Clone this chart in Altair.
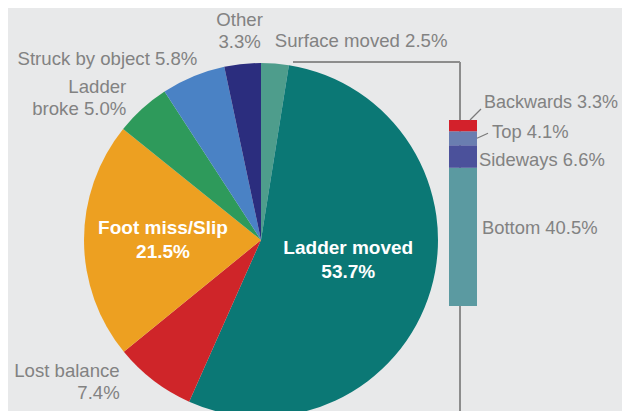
import altair as alt
import pandas as pd

# ---- data ----
causes = ["Surface moved", "Ladder moved", "Lost balance", "Foot miss/Slip",
          "Ladder broke", "Struck by object", "Other"]
cause_values = [2.5, 53.7, 7.4, 21.5, 5.0, 5.8, 3.3]
cause_label_names = ["Surface moved", "Ladder moved", "Lost balance", "Foot miss/Slip",
                     "Ladder\nbroke", "Struck by object", "Other"]
cause_label_seps = [" ", "\n", "\n", "\n", " ", " ", "\n"]
cause_colors = ["#4e9d8c", "#0b7875", "#cf2529", "#eda021", "#2e9a5b", "#4a82c5", "#2b2d7e"]

parts = ["Bottom", "Sideways", "Top", "Backwards"]
part_values = [40.5, 6.6, 4.1, 3.3]
part_colors = ["#5b9aa1", "#4b519b", "#6a7eb0", "#d3212b"]

# ---- tables ----
pie_total = sum(cause_values)
pie_df = pd.DataFrame({
    "idx": list(range(len(causes))),
    "cause": causes,
    "value": cause_values,
    "label": [n + s + f"{v:.1f}%" for n, s, v in zip(cause_label_names, cause_label_seps, cause_values)],
})
pie_df["mid"] = pie_df["value"].cumsum() - pie_df["value"] / 2

bar_total = sum(part_values)
bar_df = pd.DataFrame({
    "bidx": list(range(len(parts))),
    "part": parts,
    "value": part_values,
    "label": [f"{p} {v:.1f}%" for p, v in zip(parts, part_values)],
})
bar_df["top"] = bar_df["value"].cumsum()
bar_df["start"] = bar_df["top"] - bar_df["value"]
bar_df["mid"] = bar_df["top"] - bar_df["value"] / 2

# ---- layout / style ----
CX, CY, R = 253, 232, 177
GRAY = "#828282"
FONT = "Liberation Sans"
theta_scale = alt.Scale(domain=[0, pie_total])
y_scale = alt.Scale(domain=[0, bar_total], range=[298, 112])

pie = alt.Chart(pie_df).mark_arc(radius=R).encode(
    theta=alt.Theta("value:Q", stack=True, scale=theta_scale),
    color=alt.Color("cause:N", scale=alt.Scale(domain=causes, range=cause_colors), legend=None),
    order=alt.Order("idx:Q"),
    x=alt.value(CX),
    y=alt.value(CY),
)

pie_label_style = {
    "Surface moved": dict(radius=200, dx=-2, dy=0, align="left", bold=False),
    "Ladder moved": dict(radius=90, dx=1, dy=-18, align="center", bold=True),
    "Lost balance": dict(radius=185, dx=-29, dy=-16, align="right", bold=False),
    "Foot miss/Slip": dict(radius=98, dx=0, dy=-12, align="center", bold=True),
    "Ladder broke": dict(radius=195, dx=-4, dy=-8, align="right", bold=False),
    "Struck by object": dict(radius=195, dx=11, dy=-1, align="right", bold=False),
    "Other": dict(radius=205, dx=0, dy=-16, align="center", bold=False),
}

pie_labels = []
for name, st in pie_label_style.items():
    pie_labels.append(
        alt.Chart(pie_df).transform_filter(alt.datum.cause == name).mark_text(
            radius=st["radius"], dx=st["dx"], dy=st["dy"], align=st["align"],
            baseline="middle", lineBreak="\n", lineHeight=24 if st["bold"] else 22,
            font=FONT, fontSize=19 if st["bold"] else 18.6,
            fontWeight="bold" if st["bold"] else "normal",
            color="white" if st["bold"] else GRAY,
        ).encode(
            theta=alt.Theta("mid:Q", scale=theta_scale),
            text="label:N",
            x=alt.value(CX),
            y=alt.value(CY),
        )
    )

# connector lines
conn_h = alt.Chart(pie_df).mark_rule(color="#8c8c8c", strokeWidth=1).encode(
    x=alt.value(285), x2=alt.value(452), y=alt.value(CY - R - 1))
conn_v = alt.Chart(pie_df).mark_rule(color="#8c8c8c", strokeWidth=1).encode(
    x=alt.value(452), y=alt.value(CY - R - 1), y2=alt.value(403))

bar = alt.Chart(bar_df).mark_rect().encode(
    x=alt.value(441), x2=alt.value(469),
    y=alt.Y("top:Q", scale=y_scale, axis=None),
    y2="start:Q",
    color=alt.Color("part:N", scale=alt.Scale(domain=parts, range=part_colors), legend=None),
)

bar_label_style = {
    "Backwards": dict(dx=7, dy=-23, size=18),
    "Top": dict(dx=15, dy=-6, size=18.4),
    "Sideways": dict(dx=2, dy=3, size=18.4),
    "Bottom": dict(dx=5, dy=-9, size=18.4),
}
bar_labels = []
for name, st in bar_label_style.items():
    bar_labels.append(
        alt.Chart(bar_df).transform_filter(alt.datum.part == name).mark_text(
            dx=st["dx"], dy=st["dy"], align="left", baseline="middle",
            font=FONT, fontSize=st["size"], color=GRAY,
        ).encode(
            x=alt.value(469),
            y=alt.Y("mid:Q", scale=y_scale, axis=None),
            text="label:N",
        )
    )

lead_back = alt.Chart(bar_df).transform_filter(alt.datum.part == "Backwards").mark_rule(
    color="#7a7a7a", strokeWidth=1.2, y2Offset=-11).encode(
    x=alt.value(462), x2=alt.value(473),
    y=alt.Y("top:Q", scale=y_scale, axis=None), y2="top:Q",
)
lead_top = alt.Chart(bar_df).transform_filter(alt.datum.part == "Top").mark_rule(
    color="#7a7a7a", strokeWidth=1.2, y2Offset=-5).encode(
    x=alt.value(469), x2=alt.value(480),
    y=alt.Y("mid:Q", scale=y_scale, axis=None), y2="mid:Q",
)

chart = alt.layer(
    conn_h, conn_v, pie, *pie_labels, bar, lead_back, lead_top, *bar_labels
).resolve_scale(color="independent").properties(
    width=614, height=403, padding=0,
    autosize=alt.AutoSizeParams(type="none"),
    background="#e8e9ea",
).configure_view(strokeWidth=0)

chart.save("out.html", embed_options={"renderer": "svg", "actions": False})
